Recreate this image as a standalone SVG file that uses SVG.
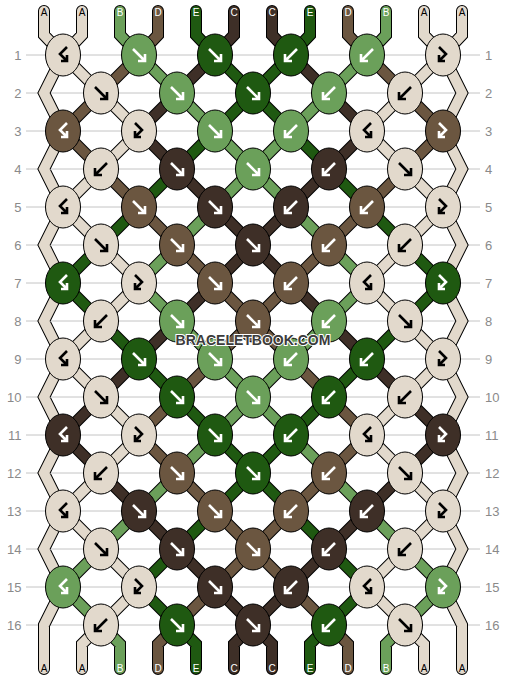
<svg xmlns="http://www.w3.org/2000/svg" width="506" height="680" viewBox="0 0 506 680">
<style>
.grid line{stroke:#c4c4c4;stroke-width:1}
.num{font-family:"Liberation Sans",Arial,sans-serif;font-size:13px;fill:#8a8a8a}
.l{text-anchor:end}
.thr{fill:none;stroke-linejoin:miter;stroke-linecap:round}
.ol use{stroke:#000;stroke-width:12}
.cl use{stroke-width:10}
.tA{stroke:#e2d9cc}.tB{stroke:#6ba05a}.tC{stroke:#3e2f27}.tD{stroke:#6b5640}.tE{stroke:#1f5911}
.n{stroke:#000;stroke-width:1}
.kA{fill:#e2d9cc}.kB{fill:#6ba05a}.kC{fill:#3e2f27}.kD{fill:#6b5640}.kE{fill:#1f5911}
.w{color:#fff}.k{color:#000}
.arr{fill:none;stroke:currentColor;stroke-width:2.6;stroke-linecap:butt;stroke-linejoin:miter}
.lab{font-family:"Liberation Sans",Arial,sans-serif;font-size:10px;text-anchor:middle}
.lk{fill:#000}.lw{fill:#fff}
.wm{font-family:"Liberation Sans",Arial,sans-serif;font-size:14px;font-weight:bold;text-anchor:middle;fill:#3c3c3c;stroke:#fff;stroke-width:2;paint-order:stroke}
</style>
<defs>
<g id="aF" class="arr"><path d="M-6-6L5 5M6-1V6H-1"/></g>
<g id="aB" class="arr"><path d="M6-6L-5 5M-6-1V6H1"/></g>
<g id="aFB" class="arr"><path d="M-4-8L3-1L-4 6M-4 0V6H2"/></g>
<g id="aBF" class="arr"><path d="M4-8L-3-1L4 6M4 0V6H-2"/></g>
<path id="pA" d="M44 11V35L63 55L44 93L63 131L44 169L63 207L44 245L63 283L44 321L63 359L44 397L63 435L44 473L63 511L44 549L63 587L44 625V669
M462 11V35L443 55L462 93L443 131L462 169L443 207L462 245L443 283L462 321L443 359L462 397L443 435L462 473L443 511L462 549L443 587L462 625V669
M82 11V35L63 55M424 11V35L443 55M101 625L82 644V669M405 625L424 644V669
M63 55L101 93M443 55L405 93M101 93L139 131M405 93L367 131M139 131L101 169M367 131L405 169M101 169L63 207M405 169L443 207
M63 207L101 245M443 207L405 245M101 245L139 283M405 245L367 283M139 283L101 321M367 283L405 321M101 321L63 359M405 321L443 359
M63 359L101 397M443 359L405 397M101 397L139 435M405 397L367 435M139 435L101 473M367 435L405 473M101 473L63 511M405 473L443 511
M63 511L101 549M443 511L405 549M101 549L139 587M405 549L367 587M139 587L101 625M367 587L405 625"/>
<path id="pB" d="M120 11V35L139 55M386 11V35L367 55M101 625L120 644V669M405 625L386 644V669
M139 55L177 93M367 55L329 93M177 93L215 131M329 93L291 131M215 131L253 169M291 131L253 169M253 169L215 207M253 169L291 207
M215 207L177 245M291 207L329 245M177 245L139 283M329 245L367 283M139 283L177 321M367 283L329 321M177 321L215 359M329 321L291 359
M215 359L253 397M291 359L253 397M253 397L215 435M253 397L291 435M215 435L177 473M291 435L329 473M177 473L139 511M329 473L367 511
M139 511L101 549M367 511L405 549M101 549L63 587M405 549L443 587M63 587L101 625M443 587L405 625"/>
<path id="pC" d="M234 11V35L215 55M272 11V35L291 55M253 625L234 644V669M253 625L272 644V669
M215 55L177 93M291 55L329 93M177 93L139 131M329 93L367 131M139 131L177 169M367 131L329 169M177 169L215 207M329 169L291 207
M215 207L253 245M291 207L253 245M253 245L215 283M253 245L291 283M215 283L177 321M291 283L329 321M177 321L139 359M329 321L367 359
M139 359L101 397M367 359L405 397M101 397L63 435M405 397L443 435M63 435L101 473M443 435L405 473M101 473L139 511M405 473L367 511
M139 511L177 549M367 511L329 549M177 549L215 587M329 549L291 587M215 587L253 625M291 587L253 625"/>
<path id="pD" d="M158 11V35L139 55M348 11V35L367 55M177 625L158 644V669M329 625L348 644V669
M139 55L101 93M367 55L405 93M101 93L63 131M405 93L443 131M63 131L101 169M443 131L405 169M101 169L139 207M405 169L367 207
M139 207L177 245M367 207L329 245M177 245L215 283M329 245L291 283M215 283L253 321M291 283L253 321M253 321L215 359M253 321L291 359
M215 359L177 397M291 359L329 397M177 397L139 435M329 397L367 435M139 435L177 473M367 435L329 473M177 473L215 511M329 473L291 511
M215 511L253 549M291 511L253 549M253 549L215 587M253 549L291 587M215 587L177 625M291 587L329 625"/>
<path id="pE" d="M196 11V35L215 55M310 11V35L291 55M177 625L196 644V669M329 625L310 644V669
M215 55L253 93M291 55L253 93M253 93L215 131M253 93L291 131M215 131L177 169M291 131L329 169M177 169L139 207M329 169L367 207
M139 207L101 245M367 207L405 245M101 245L63 283M405 245L443 283M63 283L101 321M443 283L405 321M101 321L139 359M405 321L367 359
M139 359L177 397M367 359L329 397M177 397L215 435M329 397L291 435M215 435L253 473M291 435L253 473M253 473L215 511M253 473L291 511
M215 511L177 549M291 511L329 549M177 549L139 587M329 549L367 587M139 587L177 625M367 587L329 625"/>
</defs>
<rect width="506" height="680" fill="#fff"/>
<g class="grid">
<line x1="26" y1="55" x2="480" y2="55"/><line x1="26" y1="93" x2="480" y2="93"/><line x1="26" y1="131" x2="480" y2="131"/><line x1="26" y1="169" x2="480" y2="169"/>
<line x1="26" y1="207" x2="480" y2="207"/><line x1="26" y1="245" x2="480" y2="245"/><line x1="26" y1="283" x2="480" y2="283"/><line x1="26" y1="321" x2="480" y2="321"/>
<line x1="26" y1="359" x2="480" y2="359"/><line x1="26" y1="397" x2="480" y2="397"/><line x1="26" y1="435" x2="480" y2="435"/><line x1="26" y1="473" x2="480" y2="473"/>
<line x1="26" y1="511" x2="480" y2="511"/><line x1="26" y1="549" x2="480" y2="549"/><line x1="26" y1="587" x2="480" y2="587"/><line x1="26" y1="625" x2="480" y2="625"/>
</g>
<g class="num">
<text class="l" x="21.5" y="59.5">1</text><text class="l" x="21.5" y="97.5">2</text><text class="l" x="21.5" y="135.5">3</text><text class="l" x="21.5" y="173.5">4</text>
<text class="l" x="21.5" y="211.5">5</text><text class="l" x="21.5" y="249.5">6</text><text class="l" x="21.5" y="287.5">7</text><text class="l" x="21.5" y="325.5">8</text>
<text class="l" x="21.5" y="363.5">9</text><text class="l" x="21.5" y="401.5">10</text><text class="l" x="21.5" y="439.5">11</text><text class="l" x="21.5" y="477.5">12</text>
<text class="l" x="21.5" y="515.5">13</text><text class="l" x="21.5" y="553.5">14</text><text class="l" x="21.5" y="591.5">15</text><text class="l" x="21.5" y="629.5">16</text>
<text x="485" y="59.5">1</text><text x="485" y="97.5">2</text><text x="485" y="135.5">3</text><text x="485" y="173.5">4</text>
<text x="485" y="211.5">5</text><text x="485" y="249.5">6</text><text x="485" y="287.5">7</text><text x="485" y="325.5">8</text>
<text x="485" y="363.5">9</text><text x="485" y="401.5">10</text><text x="485" y="439.5">11</text><text x="485" y="477.5">12</text>
<text x="485" y="515.5">13</text><text x="485" y="553.5">14</text><text x="485" y="591.5">15</text><text x="485" y="629.5">16</text>
</g>
<g id="connectors" class="thr">
<g class="ol"><use href="#pA"/><use href="#pB"/><use href="#pC"/><use href="#pD"/><use href="#pE"/></g>
<g class="cl"><use href="#pA" class="tA"/><use href="#pB" class="tB"/><use href="#pC" class="tC"/><use href="#pD" class="tD"/><use href="#pE" class="tE"/></g>
</g>
<g id="knots">
<g id="k1-1" transform="translate(63 55)"><ellipse class="n kA" rx="17.5" ry="21"/><use href="#aBF" class="k"/></g>
<g id="k1-2" transform="translate(139 55)"><ellipse class="n kB" rx="17.5" ry="21"/><use href="#aF" class="w"/></g>
<g id="k1-3" transform="translate(215 55)"><ellipse class="n kE" rx="17.5" ry="21"/><use href="#aF" class="w"/></g>
<g id="k1-4" transform="translate(291 55)"><ellipse class="n kE" rx="17.5" ry="21"/><use href="#aB" class="w"/></g>
<g id="k1-5" transform="translate(367 55)"><ellipse class="n kB" rx="17.5" ry="21"/><use href="#aB" class="w"/></g>
<g id="k1-6" transform="translate(443 55)"><ellipse class="n kA" rx="17.5" ry="21"/><use href="#aFB" class="k"/></g>
<g id="k2-1" transform="translate(101 93)"><ellipse class="n kA" rx="17.5" ry="21"/><use href="#aF" class="k"/></g>
<g id="k2-2" transform="translate(177 93)"><ellipse class="n kB" rx="17.5" ry="21"/><use href="#aF" class="w"/></g>
<g id="k2-3" transform="translate(253 93)"><ellipse class="n kE" rx="17.5" ry="21"/><use href="#aF" class="w"/></g>
<g id="k2-4" transform="translate(329 93)"><ellipse class="n kB" rx="17.5" ry="21"/><use href="#aB" class="w"/></g>
<g id="k2-5" transform="translate(405 93)"><ellipse class="n kA" rx="17.5" ry="21"/><use href="#aB" class="k"/></g>
<g id="k3-1" transform="translate(63 131)"><ellipse class="n kD" rx="17.5" ry="21"/><use href="#aBF" class="w"/></g>
<g id="k3-2" transform="translate(139 131)"><ellipse class="n kA" rx="17.5" ry="21"/><use href="#aFB" class="k"/></g>
<g id="k3-3" transform="translate(215 131)"><ellipse class="n kB" rx="17.5" ry="21"/><use href="#aF" class="w"/></g>
<g id="k3-4" transform="translate(291 131)"><ellipse class="n kB" rx="17.5" ry="21"/><use href="#aB" class="w"/></g>
<g id="k3-5" transform="translate(367 131)"><ellipse class="n kA" rx="17.5" ry="21"/><use href="#aBF" class="k"/></g>
<g id="k3-6" transform="translate(443 131)"><ellipse class="n kD" rx="17.5" ry="21"/><use href="#aFB" class="w"/></g>
<g id="k4-1" transform="translate(101 169)"><ellipse class="n kA" rx="17.5" ry="21"/><use href="#aB" class="k"/></g>
<g id="k4-2" transform="translate(177 169)"><ellipse class="n kC" rx="17.5" ry="21"/><use href="#aF" class="w"/></g>
<g id="k4-3" transform="translate(253 169)"><ellipse class="n kB" rx="17.5" ry="21"/><use href="#aF" class="w"/></g>
<g id="k4-4" transform="translate(329 169)"><ellipse class="n kC" rx="17.5" ry="21"/><use href="#aB" class="w"/></g>
<g id="k4-5" transform="translate(405 169)"><ellipse class="n kA" rx="17.5" ry="21"/><use href="#aF" class="k"/></g>
<g id="k5-1" transform="translate(63 207)"><ellipse class="n kA" rx="17.5" ry="21"/><use href="#aBF" class="k"/></g>
<g id="k5-2" transform="translate(139 207)"><ellipse class="n kD" rx="17.5" ry="21"/><use href="#aF" class="w"/></g>
<g id="k5-3" transform="translate(215 207)"><ellipse class="n kC" rx="17.5" ry="21"/><use href="#aF" class="w"/></g>
<g id="k5-4" transform="translate(291 207)"><ellipse class="n kC" rx="17.5" ry="21"/><use href="#aB" class="w"/></g>
<g id="k5-5" transform="translate(367 207)"><ellipse class="n kD" rx="17.5" ry="21"/><use href="#aB" class="w"/></g>
<g id="k5-6" transform="translate(443 207)"><ellipse class="n kA" rx="17.5" ry="21"/><use href="#aFB" class="k"/></g>
<g id="k6-1" transform="translate(101 245)"><ellipse class="n kA" rx="17.5" ry="21"/><use href="#aF" class="k"/></g>
<g id="k6-2" transform="translate(177 245)"><ellipse class="n kD" rx="17.5" ry="21"/><use href="#aF" class="w"/></g>
<g id="k6-3" transform="translate(253 245)"><ellipse class="n kC" rx="17.5" ry="21"/><use href="#aF" class="w"/></g>
<g id="k6-4" transform="translate(329 245)"><ellipse class="n kD" rx="17.5" ry="21"/><use href="#aB" class="w"/></g>
<g id="k6-5" transform="translate(405 245)"><ellipse class="n kA" rx="17.5" ry="21"/><use href="#aB" class="k"/></g>
<g id="k7-1" transform="translate(63 283)"><ellipse class="n kE" rx="17.5" ry="21"/><use href="#aBF" class="w"/></g>
<g id="k7-2" transform="translate(139 283)"><ellipse class="n kA" rx="17.5" ry="21"/><use href="#aFB" class="k"/></g>
<g id="k7-3" transform="translate(215 283)"><ellipse class="n kD" rx="17.5" ry="21"/><use href="#aF" class="w"/></g>
<g id="k7-4" transform="translate(291 283)"><ellipse class="n kD" rx="17.5" ry="21"/><use href="#aB" class="w"/></g>
<g id="k7-5" transform="translate(367 283)"><ellipse class="n kA" rx="17.5" ry="21"/><use href="#aBF" class="k"/></g>
<g id="k7-6" transform="translate(443 283)"><ellipse class="n kE" rx="17.5" ry="21"/><use href="#aFB" class="w"/></g>
<g id="k8-1" transform="translate(101 321)"><ellipse class="n kA" rx="17.5" ry="21"/><use href="#aB" class="k"/></g>
<g id="k8-2" transform="translate(177 321)"><ellipse class="n kB" rx="17.5" ry="21"/><use href="#aF" class="w"/></g>
<g id="k8-3" transform="translate(253 321)"><ellipse class="n kD" rx="17.5" ry="21"/><use href="#aF" class="w"/></g>
<g id="k8-4" transform="translate(329 321)"><ellipse class="n kB" rx="17.5" ry="21"/><use href="#aB" class="w"/></g>
<g id="k8-5" transform="translate(405 321)"><ellipse class="n kA" rx="17.5" ry="21"/><use href="#aF" class="k"/></g>
<g id="k9-1" transform="translate(63 359)"><ellipse class="n kA" rx="17.5" ry="21"/><use href="#aBF" class="k"/></g>
<g id="k9-2" transform="translate(139 359)"><ellipse class="n kE" rx="17.5" ry="21"/><use href="#aF" class="w"/></g>
<g id="k9-3" transform="translate(215 359)"><ellipse class="n kB" rx="17.5" ry="21"/><use href="#aF" class="w"/></g>
<g id="k9-4" transform="translate(291 359)"><ellipse class="n kB" rx="17.5" ry="21"/><use href="#aB" class="w"/></g>
<g id="k9-5" transform="translate(367 359)"><ellipse class="n kE" rx="17.5" ry="21"/><use href="#aB" class="w"/></g>
<g id="k9-6" transform="translate(443 359)"><ellipse class="n kA" rx="17.5" ry="21"/><use href="#aFB" class="k"/></g>
<g id="k10-1" transform="translate(101 397)"><ellipse class="n kA" rx="17.5" ry="21"/><use href="#aF" class="k"/></g>
<g id="k10-2" transform="translate(177 397)"><ellipse class="n kE" rx="17.5" ry="21"/><use href="#aF" class="w"/></g>
<g id="k10-3" transform="translate(253 397)"><ellipse class="n kB" rx="17.5" ry="21"/><use href="#aF" class="w"/></g>
<g id="k10-4" transform="translate(329 397)"><ellipse class="n kE" rx="17.5" ry="21"/><use href="#aB" class="w"/></g>
<g id="k10-5" transform="translate(405 397)"><ellipse class="n kA" rx="17.5" ry="21"/><use href="#aB" class="k"/></g>
<g id="k11-1" transform="translate(63 435)"><ellipse class="n kC" rx="17.5" ry="21"/><use href="#aBF" class="w"/></g>
<g id="k11-2" transform="translate(139 435)"><ellipse class="n kA" rx="17.5" ry="21"/><use href="#aFB" class="k"/></g>
<g id="k11-3" transform="translate(215 435)"><ellipse class="n kE" rx="17.5" ry="21"/><use href="#aF" class="w"/></g>
<g id="k11-4" transform="translate(291 435)"><ellipse class="n kE" rx="17.5" ry="21"/><use href="#aB" class="w"/></g>
<g id="k11-5" transform="translate(367 435)"><ellipse class="n kA" rx="17.5" ry="21"/><use href="#aBF" class="k"/></g>
<g id="k11-6" transform="translate(443 435)"><ellipse class="n kC" rx="17.5" ry="21"/><use href="#aFB" class="w"/></g>
<g id="k12-1" transform="translate(101 473)"><ellipse class="n kA" rx="17.5" ry="21"/><use href="#aB" class="k"/></g>
<g id="k12-2" transform="translate(177 473)"><ellipse class="n kD" rx="17.5" ry="21"/><use href="#aF" class="w"/></g>
<g id="k12-3" transform="translate(253 473)"><ellipse class="n kE" rx="17.5" ry="21"/><use href="#aF" class="w"/></g>
<g id="k12-4" transform="translate(329 473)"><ellipse class="n kD" rx="17.5" ry="21"/><use href="#aB" class="w"/></g>
<g id="k12-5" transform="translate(405 473)"><ellipse class="n kA" rx="17.5" ry="21"/><use href="#aF" class="k"/></g>
<g id="k13-1" transform="translate(63 511)"><ellipse class="n kA" rx="17.5" ry="21"/><use href="#aBF" class="k"/></g>
<g id="k13-2" transform="translate(139 511)"><ellipse class="n kC" rx="17.5" ry="21"/><use href="#aF" class="w"/></g>
<g id="k13-3" transform="translate(215 511)"><ellipse class="n kD" rx="17.5" ry="21"/><use href="#aF" class="w"/></g>
<g id="k13-4" transform="translate(291 511)"><ellipse class="n kD" rx="17.5" ry="21"/><use href="#aB" class="w"/></g>
<g id="k13-5" transform="translate(367 511)"><ellipse class="n kC" rx="17.5" ry="21"/><use href="#aB" class="w"/></g>
<g id="k13-6" transform="translate(443 511)"><ellipse class="n kA" rx="17.5" ry="21"/><use href="#aFB" class="k"/></g>
<g id="k14-1" transform="translate(101 549)"><ellipse class="n kA" rx="17.5" ry="21"/><use href="#aF" class="k"/></g>
<g id="k14-2" transform="translate(177 549)"><ellipse class="n kC" rx="17.5" ry="21"/><use href="#aF" class="w"/></g>
<g id="k14-3" transform="translate(253 549)"><ellipse class="n kD" rx="17.5" ry="21"/><use href="#aF" class="w"/></g>
<g id="k14-4" transform="translate(329 549)"><ellipse class="n kC" rx="17.5" ry="21"/><use href="#aB" class="w"/></g>
<g id="k14-5" transform="translate(405 549)"><ellipse class="n kA" rx="17.5" ry="21"/><use href="#aB" class="k"/></g>
<g id="k15-1" transform="translate(63 587)"><ellipse class="n kB" rx="17.5" ry="21"/><use href="#aBF" class="w"/></g>
<g id="k15-2" transform="translate(139 587)"><ellipse class="n kA" rx="17.5" ry="21"/><use href="#aFB" class="k"/></g>
<g id="k15-3" transform="translate(215 587)"><ellipse class="n kC" rx="17.5" ry="21"/><use href="#aF" class="w"/></g>
<g id="k15-4" transform="translate(291 587)"><ellipse class="n kC" rx="17.5" ry="21"/><use href="#aB" class="w"/></g>
<g id="k15-5" transform="translate(367 587)"><ellipse class="n kA" rx="17.5" ry="21"/><use href="#aBF" class="k"/></g>
<g id="k15-6" transform="translate(443 587)"><ellipse class="n kB" rx="17.5" ry="21"/><use href="#aFB" class="w"/></g>
<g id="k16-1" transform="translate(101 625)"><ellipse class="n kA" rx="17.5" ry="21"/><use href="#aB" class="k"/></g>
<g id="k16-2" transform="translate(177 625)"><ellipse class="n kE" rx="17.5" ry="21"/><use href="#aF" class="w"/></g>
<g id="k16-3" transform="translate(253 625)"><ellipse class="n kC" rx="17.5" ry="21"/><use href="#aF" class="w"/></g>
<g id="k16-4" transform="translate(329 625)"><ellipse class="n kE" rx="17.5" ry="21"/><use href="#aB" class="w"/></g>
<g id="k16-5" transform="translate(405 625)"><ellipse class="n kA" rx="17.5" ry="21"/><use href="#aF" class="k"/></g>
</g>
<g id="labels" class="lab">
<text class="lk" x="44" y="16">A</text><text class="lk" x="82" y="16">A</text><text class="lw" x="120" y="16">B</text><text class="lw" x="158" y="16">D</text>
<text class="lw" x="196" y="16">E</text><text class="lw" x="234" y="16">C</text><text class="lw" x="272" y="16">C</text><text class="lw" x="310" y="16">E</text>
<text class="lw" x="348" y="16">D</text><text class="lw" x="386" y="16">B</text><text class="lk" x="424" y="16">A</text><text class="lk" x="462" y="16">A</text>
<text class="lk" x="44" y="672">A</text><text class="lk" x="82" y="672">A</text><text class="lw" x="120" y="672">B</text><text class="lw" x="158" y="672">D</text>
<text class="lw" x="196" y="672">E</text><text class="lw" x="234" y="672">C</text><text class="lw" x="272" y="672">C</text><text class="lw" x="310" y="672">E</text>
<text class="lw" x="348" y="672">D</text><text class="lw" x="386" y="672">B</text><text class="lk" x="424" y="672">A</text><text class="lk" x="462" y="672">A</text>
</g>
<text class="wm" x="253" y="345">BRACELETBOOK.COM</text>
</svg>
